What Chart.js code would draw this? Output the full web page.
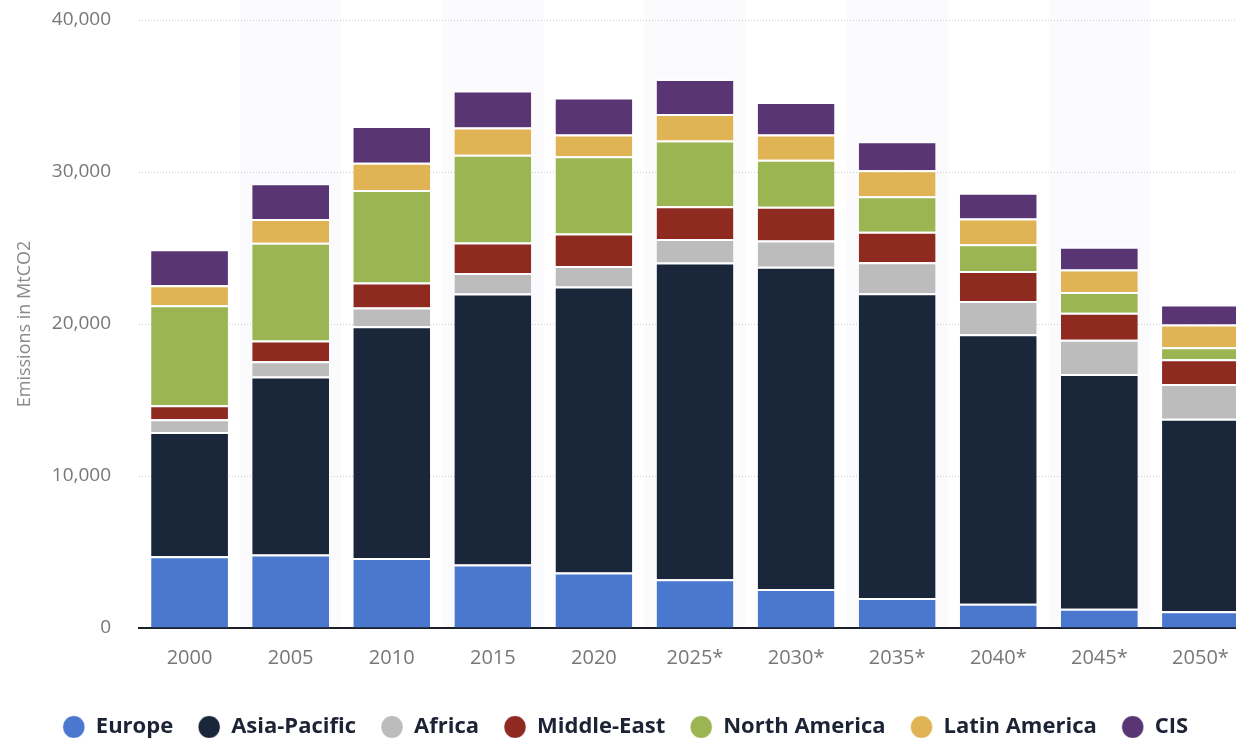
<!DOCTYPE html>
<html><head><meta charset="utf-8">
<script src="https://cdn.jsdelivr.net/npm/chart.js@4.4.1/dist/chart.umd.min.js"></script>
<style>
html,body{margin:0;padding:0;background:#fff;overflow:hidden;width:1236px;height:738px;}
#wrap{position:absolute;left:0;top:0;width:1252px;height:748px;}
</style></head><body>
<div id="wrap"><canvas id="c" width="1252" height="748"></canvas></div>
<script>
const categories = ['2000','2005','2010','2015','2020','2025*','2030*','2035*','2040*','2045*','2050*'];
const europe       = [4720, 4830, 4610, 4180, 3650, 3210, 2560, 1970, 1600, 1270, 1100];
const asiaPacific  = [8180, 11720, 15240, 17830, 18820, 20830, 21210, 20050, 17720, 15440, 12660];
const africa       = [830, 1000, 1240, 1340, 1340, 1550, 1730, 2050, 2190, 2260, 2300];
const middleEast   = [920, 1360, 1640, 2010, 2150, 2150, 2210, 2000, 1970, 1770, 1620];
const northAmerica = [6590, 6440, 6090, 5770, 5080, 4340, 3090, 2340, 1760, 1360, 790];
const latinAmerica = [1310, 1560, 1790, 1800, 1430, 1730, 1660, 1710, 1700, 1490, 1490];
const cis          = [2360, 2350, 2420, 2430, 2430, 2310, 2150, 1910, 1690, 1490, 1330];
const yTicks = [0, 10000, 20000, 30000, 40000];

const seriesNames = ['Europe','Asia-Pacific','Africa','Middle-East','North America','Latin America','CIS'];
const seriesData = [europe, asiaPacific, africa, middleEast, northAmerica, latinAmerica, cis];
const seriesColors = ['#4a78cf','#1a2639','#bcbcbc','#8e2a20','#9ab552','#e0b455','#5a3573'];

const bandPlugin = {
  id: 'bands',
  beforeDraw(chart) {
    const {ctx, chartArea, scales: {x}} = chart;
    const w = x.width / categories.length;
    ctx.save();
    ctx.fillStyle = '#fbfafd';
    categories.forEach((c, i) => {
      if (i % 2 === 1) {
        const cx = x.getPixelForValue(i);
        ctx.fillRect(cx - w / 2, 0, w, chartArea.bottom);
      }
    });
    ctx.restore();
  }
};

Chart.defaults.font.family = "'Open Sans', sans-serif";

new Chart(document.getElementById('c'), {
  type: 'bar',
  data: {
    labels: categories,
    datasets: seriesNames.map((n, i) => ({
      label: n,
      data: seriesData[i],
      backgroundColor: seriesColors[i],
      borderColor: '#ffffff',
      borderWidth: {top: 2, left: 0, right: 0, bottom: 0},
      borderSkipped: false,
      barPercentage: 0.76,
      categoryPercentage: 1
    }))
  },
  options: {
    responsive: false,
    animation: false,
    devicePixelRatio: 1,
    layout: {padding: {left: 0, right: 1, top: 20, bottom: 0}},
    plugins: {
      legend: {
        position: 'bottom',
        labels: {
          usePointStyle: true,
          pointStyle: 'circle',
          pointStyleWidth: 22,
          boxHeight: 16,
          padding: 25,
          color: '#1b2334',
          font: {size: 22, weight: 'bold'}
        }
      },
      tooltip: {enabled: false}
    },
    scales: {
      x: {
        stacked: true,
        grid: {display: false, drawTicks: false},
        border: {display: true, color: '#1b1f2a', width: 2},
        ticks: {color: '#777777', font: {size: 20}, padding: 18, maxRotation: 0},
        afterFit(s) { s.height = 63; }
      },
      y: {
        stacked: true,
        min: 0, max: 40000,
        afterBuildTicks(s) { s.ticks = yTicks.map(v => ({value: v})); },
        grid: {
          drawTicks: false,
          color: c => (c.tick && c.tick.value === 0) ? 'rgba(0,0,0,0)' : '#cccccc',
          lineWidth: 1
        },
        border: {display: false, dash: [1, 2]},
        ticks: {
          color: '#777777', font: {size: 19}, padding: 28,
          callback: v => v.toLocaleString('en-US')
        },
        title: {
          display: true, text: 'Emissions in MtCO2', color: '#8a8a8a',
          font: {size: 18}, padding: {top: 14, bottom: 0}
        },
        afterFit(s) { s.width = 139; s.paddingTop = 12; s.paddingBottom = 12; }
      }
    }
  },
  plugins: [bandPlugin]
});
</script>
</body></html>
